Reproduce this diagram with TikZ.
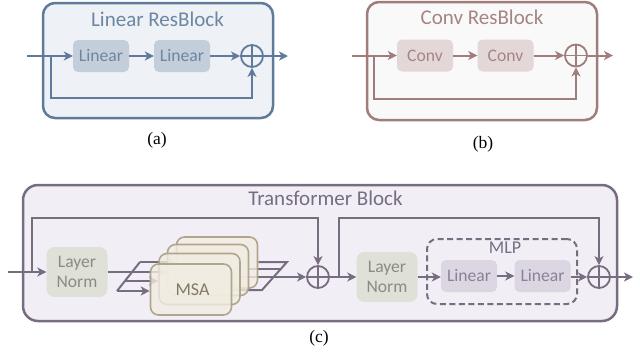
\documentclass[tikz,border=0pt]{standalone}
\usepackage{fontspec}
\setmainfont{Liberation Serif}
\newfontfamily\calib{Carlito}
\usetikzlibrary{arrows.meta,calc}

% palette
\definecolor{blueline}{HTML}{5F7A9A}
\definecolor{bluefill}{HTML}{EEF1F5}
\definecolor{bluebox}{HTML}{C4CEDA}
\definecolor{bluetext}{HTML}{6D86A4}
\definecolor{roseline}{HTML}{A07C7A}
\definecolor{rosefill}{HTML}{FAF9F9}
\definecolor{rosebox}{HTML}{E3D8D7}
\definecolor{rosetext}{HTML}{A58583}
\definecolor{plumline}{HTML}{776C80}
\definecolor{plumfill}{HTML}{F1EFF5}
\definecolor{plumbox}{HTML}{DCD6E3}
\definecolor{plumtext}{HTML}{8B8197}
\definecolor{normfill}{HTML}{DFE0D7}
\definecolor{normtext}{HTML}{888D7E}
\definecolor{msafill}{HTML}{F1ECE1}
\definecolor{msaline}{HTML}{A99F84}
\definecolor{msatext}{HTML}{827866}

\tikzset{
  frame/.style={draw, line width=2.5pt, rounded corners=12pt},
  titletext/.style={anchor=base, inner sep=0pt, font=\calib\fontsize{21}{24}\selectfont},
  blk/.style={rounded corners=5pt, minimum width=56pt, minimum height=32pt, inner sep=0pt,
    font=\calib\fontsize{17.6}{20}\selectfont},
  normblk/.style={blk, fill=normfill, text=normtext, minimum width=61pt, minimum height=50pt,
    rounded corners=8pt, align=center},
  msablk/.style={rounded corners=8pt, minimum width=81pt, minimum height=51pt, inner sep=0pt,
    draw=msaline, line width=1.6pt, fill=msafill, fill opacity=0.8, draw opacity=0.9,
    text opacity=1, text=msatext, font=\calib\fontsize{17.6}{20}\selectfont},
  wire/.style={line width=2pt},
  flow/.style={line width=2pt, -{Stealth[length=9pt,width=9pt,inset=2.5pt]}},
  sumnode/.style={circle, draw, line width=1.8pt, minimum size=22pt, inner sep=0pt,
    path picture={\draw[line width=1.6pt]
      (path picture bounding box.north) -- (path picture bounding box.south)
      (path picture bounding box.west) -- (path picture bounding box.east);}},
  caption/.style={inner sep=0pt, font=\fontsize{17.5}{20}\selectfont}
}

\begin{document}
\begin{tikzpicture}[x=1pt,y=-1pt]
\useasboundingbox (0,0) rectangle (640,360);

% ---------- (a) Linear ResBlock ----------
\begin{scope}[blueline]
  \draw[frame, fill=bluefill] (43,3) rectangle (273,118);
  \node[titletext, text=bluetext] (a-title) at (157.5,26) {Linear ResBlock};
  \node[blk, fill=bluebox, text=bluetext] (a-lin1) at (101,56) {Linear};
  \node[blk, fill=bluebox, text=bluetext] (a-lin2) at (182,56) {Linear};
  \node[sumnode] (a-sum) at (252,56) {};
  \coordinate (a-in) at (27,56);
  \coordinate (a-split) at (51,56);
  \coordinate (a-out) at (288,56);
  \draw[flow] (a-in) -- (a-lin1);
  \draw[flow] (a-lin1) -- (a-lin2);
  \draw[flow] (a-lin2) -- (a-sum);
  \draw[flow] (a-sum) -- (a-out);
  \draw[flow] (a-split) -- ++(0,42) -| (a-sum);
\end{scope}
\node[caption] (a-cap) at (157,140.5) {(a)};

% ---------- (b) Conv ResBlock ----------
\begin{scope}[roseline]
  \draw[frame, fill=rosefill] (367,2) rectangle (597,120);
  \node[titletext, text=rosetext] (b-title) at (482,24) {Conv ResBlock};
  \node[blk, fill=rosebox, text=rosetext] (b-conv1) at (425,55.5) {Conv};
  \node[blk, fill=rosebox, text=rosetext] (b-conv2) at (505.5,55.5) {Conv};
  \node[sumnode] (b-sum) at (576,55.5) {};
  \coordinate (b-in) at (352,55.5);
  \coordinate (b-split) at (374,55.5);
  \coordinate (b-out) at (613,55.5);
  \draw[flow] (b-in) -- (b-conv1);
  \draw[flow] (b-conv1) -- (b-conv2);
  \draw[flow] (b-conv2) -- (b-sum);
  \draw[flow] (b-sum) -- (b-out);
  \draw[flow] (b-split) -- ++(0,43) -| (b-sum);
\end{scope}
\node[caption] (b-cap) at (483,144.5) {(b)};

% ---------- (c) Transformer Block ----------
\begin{scope}[plumline]
  \draw[frame, rounded corners=15pt, fill=plumfill] (23,185) rectangle (617,321);
  \node[titletext, text=plumline] (c-title) at (325.5,205) {Transformer Block};

  \node[normblk] (ln1) at (77,272) {Layer\\Norm};
  \node[normblk] (ln2) at (387,277) {Layer\\Norm};
  \node[sumnode] (sum1) at (318,277) {};
  \node[sumnode] (sum2) at (599,277) {};

  % MLP group
  \node[draw, dashed, dash pattern=on 6pt off 3.5pt, line width=2pt, rounded corners=10pt,
        minimum width=150pt, minimum height=65pt, inner sep=0pt] (mlp) at (502,271.5) {};
  \node[inner sep=0pt, text=plumline, font=\calib\fontsize{18}{20}\selectfont]
        (mlp-label) at (505,248) {MLP};
  \node[blk, fill=plumbox, text=plumtext] (c-lin1) at (469,276) {Linear};
  \node[blk, fill=plumbox, text=plumtext] (c-lin2) at (542.5,276) {Linear};

  % attention heads: lines underneath the stacked boxes
  \coordinate (c-in) at (8,272);
  \coordinate (c-split1) at (32,272);
  \coordinate (c-split2) at (339,277);
  \coordinate (c-out) at (633,277);
  \coordinate (pl-a) at (140,262);
  \coordinate (pl-m) at (125,281);
  \coordinate (pl-b) at (117,291);
  \coordinate (pr-a) at (287,262);
  \coordinate (pr-m) at (281,269);
  \coordinate (pr-b) at (262,290);

  \node[msablk, draw=none, fill=none] (msa4) at (217,262.5) {};
  \node[msablk, draw=none, fill=none] (msa3) at (208,270) {};
  \node[msablk, draw=none, fill=none] (msa2) at (199.5,279) {};
  \node[msablk, draw=none, fill=none] (msa1) at (191,289.5) {};

  \draw[flow] (c-in) -- (ln1);
  \draw[flow] (ln1) -- (ln1 -| msa3.west);
  \draw[wire] (pl-a) -- (pl-b);
  \draw[flow] (pl-a) -- (pl-a -| msa4.west);
  \draw[flow] (pl-m) -- (pl-m -| msa2.west);
  \draw[flow] (pl-b) -- (pl-b -| msa1.west);
  \draw[wire] (pr-a -| msa4.east) -- (pr-a) -- (pr-b) -- (pr-b -| msa1.east);
  \draw[wire] (pr-m -| msa3.east) -- (pr-m);
  \draw[flow] (sum1 -| msa2.east) -- (sum1);

  % stacked heads, back to front
  \node[msablk] at (msa4) {};
  \node[msablk] at (msa3) {};
  \node[msablk] at (msa2) {};
  \node[msablk] at (msa1) {};
  \node[inner sep=0pt, text=msatext, font=\calib\fontsize{18}{20}\selectfont]
        (msa-label) at (192.5,289.5) {MSA};

  % residual paths and the rest of the flow
  \draw[flow] (c-split1) -- ++(0,-54) -| (sum1);
  \draw[flow] (sum1) -- (ln2);
  \draw[flow] (c-split2) -- ++(0,-59) -| (sum2);
  \draw[flow] (ln2) -- (ln2 -| c-lin1.west);
  \draw[flow] (c-lin1) -- (c-lin2);
  \draw[flow] (c-lin2.east |- sum2) -- (sum2);
  \draw[flow] (sum2) -- (c-out);
\end{scope}
\node[caption] (c-cap) at (319,338.5) {(c)};
\end{tikzpicture}
\end{document}
